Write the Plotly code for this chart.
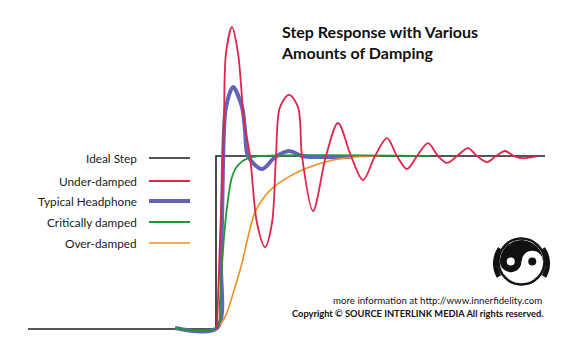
import math
import plotly.graph_objects as go

W, H = 575, 360

# ---- data: time (samples after the step), response (% of final value) ----
ideal_t = [-188, 0, 0, 329]
ideal_r = [0, 0, 100, 100]

under_t = [1, 4, 7, 8, 10, 16, 22, 28, 34, 41, 49, 56, 60, 64, 73, 82, 86, 97,
           110, 122, 135, 147, 159, 171, 181, 191, 201, 212, 222, 231, 241,
           252, 261, 271, 280, 289, 298, 307, 321]
under_r = [0, 51.4, 100, 120.8, 159.5, 174.6, 159.5, 120.8, 100, 61.3, 47.4,
           61.3, 100, 128.3, 135.3, 128.3, 100, 68.2, 100, 119.1, 100, 86.1,
           100, 110.4, 100, 92.5, 100, 107.5, 100, 96.0, 100, 104.6, 100, 96.5,
           100, 102.9, 100, 98.8, 100]

head_t = [-41, 1, 5, 8, 10, 17, 26, 29, 32, 46, 59, 73, 86, 104, 134]
head_r = [0.6, 0.6, 39.9, 115, 128.3, 139.9, 128.3, 115, 100, 92.5, 99.4,
          102.9, 100, 99.4, 99.4]

crit_t = [-41, 1, 4, 7, 11, 16, 22, 32, 46, 214]
crit_r = [0.6, 0.6, 16.8, 45.7, 70.5, 87.9, 94.8, 98.8, 100, 100]

over_t = [0, 9, 19, 26, 32, 39, 49, 59, 74, 91, 117, 137, 164]
over_r = [0, 6.9, 24.3, 38.2, 53.2, 67.6, 76.9, 82.7, 88.4, 93.1, 97.7, 99.4, 100]

labels = ["Ideal Step", "Under-damped", "Typical Headphone",
          "Critically damped", "Over-damped"]
colors = ["#1e1e1e", "#e0244c", "#6363b8", "#23963a", "#f0901e"]
widths = [1.6, 1.8, 4, 1.8, 1.6]

title_lines = ["Step Response with Various", "Amounts of Damping"]
info_line = "more information at http://www.innerfidelity.com"
copy_line = "Copyright © SOURCE INTERLINK MEDIA All rights reserved."

# ---- figure ----
fig = go.Figure()

series = [
    (ideal_t, ideal_r, 0, "linear"),
    (head_t, head_r, 2, "spline"),
    (over_t, over_r, 4, "spline"),
    (crit_t, crit_r, 3, "spline"),
    (under_t, under_r, 1, "spline"),
]
for t, r, i, shp in series:
    fig.add_trace(go.Scatter(
        x=t, y=r, mode="lines", name=labels[i],
        line=dict(color=colors[i], width=widths[i], shape=shp, smoothing=0.9),
        hoverinfo="skip", showlegend=False))


def px(x):
    return x / W


def py(y):
    return 1 - y / H


shapes = []
annotations = []

# custom legend: text on the left, line sample on the right
legend_y = [158, 181, 201, 222, 243]
for i, lab in enumerate(labels):
    annotations.append(dict(
        x=px(139), y=py(legend_y[i]), xref="paper", yref="paper",
        text=lab, showarrow=False, xanchor="right", yanchor="middle",
        font=dict(family="Lato", size=11.8, color="#1a1a1a")))
    shapes.append(dict(
        type="line", xref="paper", yref="paper",
        x0=px(149), x1=px(190), y0=py(legend_y[i]), y1=py(legend_y[i]),
        line=dict(color=colors[i], width=widths[i])))

# title (two lines in one text block)
annotations.append(dict(
    x=px(279), y=py(41.5), xref="paper", yref="paper",
    text="<b>" + "<br>".join(title_lines) + "</b>", showarrow=False,
    xanchor="left", yanchor="middle", align="left",
    font=dict(family="Lato", size=16, color="#111111")))

# footer text
annotations.append(dict(
    x=px(544), y=py(300), xref="paper", yref="paper", text=info_line,
    showarrow=False, xanchor="right", yanchor="middle",
    font=dict(family="Lato", size=9.7, color="#111111")))
annotations.append(dict(
    x=px(545), y=py(313), xref="paper", yref="paper", text="<b>" + copy_line + "</b>",
    showarrow=False, xanchor="right", yanchor="middle",
    font=dict(family="Lato", size=9.3, color="#111111")))


# ---- logo (decoration) ----
def arc_pts(cx, cy, r, a0, a1, n=40):
    pts = []
    for k in range(n + 1):
        a = math.radians(a0 + (a1 - a0) * k / n)
        pts.append((cx + r * math.cos(a), cy + r * math.sin(a)))
    return pts


def path_of(pts, close=True):
    s = "M " + " L ".join(f"{px(x):.5f},{py(y):.5f}" for x, y in pts)
    return s + (" Z" if close else "")


def circle(cx, cy, r, fill, line_color=None, lw=0):
    return dict(type="circle", xref="paper", yref="paper",
                x0=px(cx - r), x1=px(cx + r), y0=py(cy + r), y1=py(cy - r),
                fillcolor=fill, line=dict(color=line_color or fill, width=lw))


cx, cy, R = 521.5, 261.5, 21.5
shapes.append(circle(cx, cy, R + 1.5, "white", "#111111", 2))
shapes.append(circle(cx, cy, R, "#111111"))
# bottom half white (screen y grows downward)
shapes.append(dict(type="path", xref="paper", yref="paper",
                   path=path_of(arc_pts(cx, cy, R, 0, 180)),
                   fillcolor="white", line=dict(width=0)))
shapes.append(circle(cx - R / 2, cy, R / 2, "#111111"))
shapes.append(circle(cx + R / 2, cy, R / 2, "white"))
shapes.append(circle(cx - R / 2, cy, 4, "white"))
shapes.append(circle(cx + R / 2, cy, 4, "#111111"))
shapes.append(dict(type="circle", xref="paper", yref="paper",
                   x0=px(cx - R - 1.5), x1=px(cx + R + 1.5),
                   y0=py(cy + R + 1.5), y1=py(cy - R - 1.5),
                   line=dict(color="#111111", width=2)))
# ear cups
for a0, a1 in [(150, 215), (-35, 30)]:
    pts = arc_pts(cx, cy + 2, R + 4.5, a0, a1, 20)
    shapes.append(dict(type="path", xref="paper", yref="paper",
                       path=path_of(pts, close=False),
                       line=dict(color="#111111", width=5)))

fig.update_layout(
    width=W, height=H, margin=dict(l=0, r=0, t=0, b=0),
    paper_bgcolor="white", plot_bgcolor="white",
    xaxis=dict(range=[-216, 359], visible=False, fixedrange=True),
    yaxis=dict(range=[-17.9, 190.2], visible=False, fixedrange=True),
    shapes=shapes, annotations=annotations, showlegend=False,
)

fig.write_html("out.html", config={"displayModeBar": False},
               post_script="document.body.style.margin='0';")
